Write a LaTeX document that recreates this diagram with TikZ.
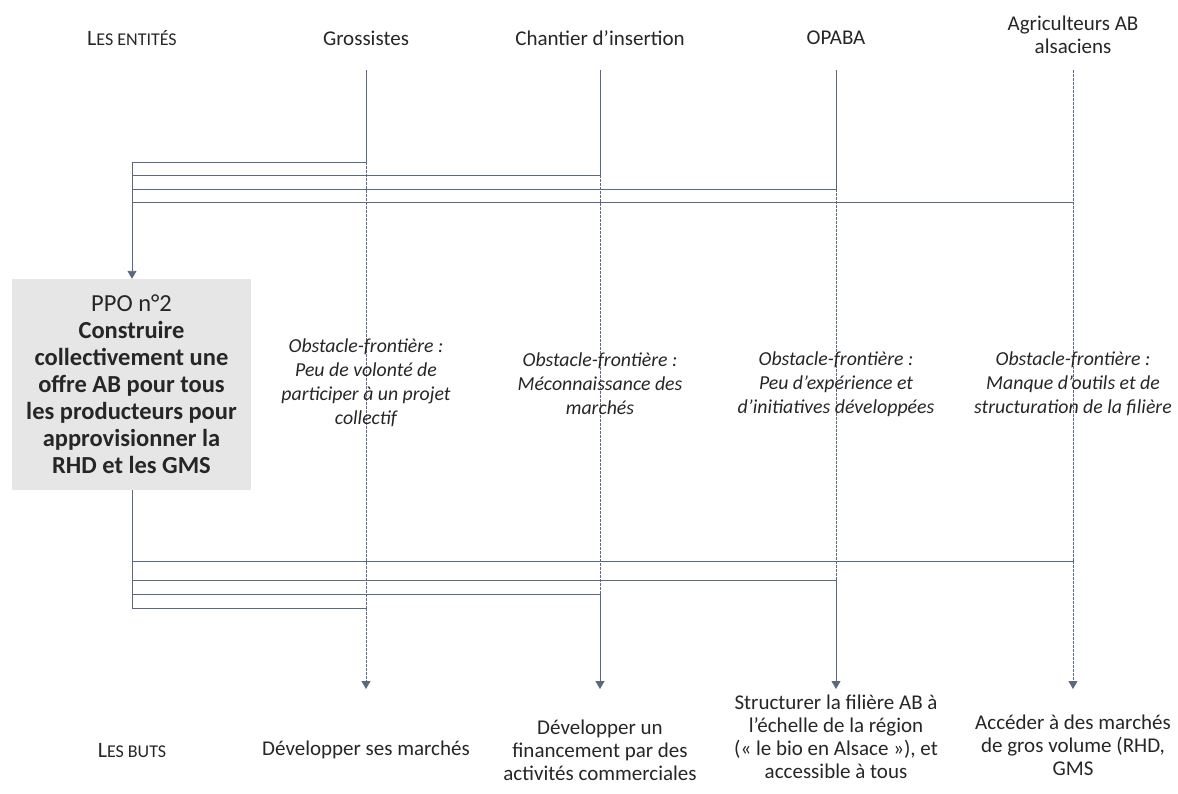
\documentclass[tikz,border=0pt]{standalone}
\usepackage{fontspec}
\setmainfont{Carlito}
\usetikzlibrary{arrows.meta}
\definecolor{ln}{HTML}{5A6880}
\definecolor{boxgray}{HTML}{E6E6E6}
\definecolor{txt}{HTML}{262626}
\tikzset{
  conn/.style={draw=ln, line width=0.9pt},
  dash col/.style={draw=ln, line width=0.9pt, dash pattern=on 2.5pt off 1.5pt},
  arr/.style={-{Triangle[width=9pt,length=8pt]}},
  lbl/.style={text=txt, align=center, inner sep=0pt, font=\fontsize{21}{23}\selectfont},
  obst/.style={text=txt, align=center, inner sep=0pt, font=\fontsize{19.8}{24}\selectfont\itshape},
  ppo/.style={fill=boxgray, text=txt, align=center, minimum width=239pt, minimum height=211pt, inner sep=0pt, font=\fontsize{24.5}{27}\selectfont},
}
\newcommand{\fsc}[2]{{\fontsize{22}{23}\selectfont #1}{\fontsize{18}{20}\selectfont #2}}
\begin{document}
\begin{tikzpicture}[x=1pt,y=-1pt]
\useasboundingbox (0,0) rectangle (1178,793);
% labels
\node[lbl] (ent) at (132,38) {\fsc{L}{ES ENTITÉS}};
\node[lbl] (gro) at (366,38) {Grossistes};
\node[lbl] (cha) at (600,38) {Chantier d’insertion};
\node[lbl] (opa) at (836,38) {OPABA};
\node[lbl] (agr) at (1073,35) {Agriculteurs AB\\alsaciens};
% coordinates
\coordinate (g0) at (366,70); \coordinate (c0) at (600,70);
\coordinate (o0) at (836,70); \coordinate (a0) at (1073,70);
\coordinate (g1) at (366,162); \coordinate (c1) at (600,175);
\coordinate (o1) at (836,189); \coordinate (a1) at (1073,202);
\coordinate (lg1) at (132,162); \coordinate (lc1) at (132,175);
\coordinate (lo1) at (132,189); \coordinate (la1) at (132,202);
\coordinate (g2) at (366,608); \coordinate (c2) at (600,594);
\coordinate (o2) at (836,580); \coordinate (a2) at (1073,561);
\coordinate (lg2) at (132,608); \coordinate (lc2) at (132,594);
\coordinate (lo2) at (132,580); \coordinate (la2) at (132,561);
\coordinate (g3) at (366,689); \coordinate (c3) at (600,689);
\coordinate (o3) at (836,689); \coordinate (a3) at (1073,689);
% PPO box
\node[ppo] (ppo) at (131.5,384.5) {PPO n°2\\\textbf{Construire}\\\textbf{collectivement une}\\\textbf{offre AB pour tous}\\\textbf{les producteurs pour}\\\textbf{approvisionner la}\\\textbf{RHD et les GMS}};
% dashed column lines
\draw[dash col] (g1) -- (g2);
\draw[dash col] (c1) -- (c2);
\draw[dash col] (o1) -- (o2);
\draw[dash col] (a1) -- (a2);
% obstacles
\node[obst] (og) at (366,383) {Obstacle-frontière :\\Peu de volonté de\\participer à un projet\\collectif};
\node[obst] (oc) at (600,384) {Obstacle-frontière :\\Méconnaissance des\\marchés};
\node[obst] (oo) at (836,384) {Obstacle-frontière :\\Peu d’expérience et\\d’initiatives développées};
\node[obst] (oa) at (1073,384) {Obstacle-frontière :\\Manque d’outils et de\\structuration de la filière};
% top connectors
\draw[conn] (g0) -- (g1) -- (lg1);
\draw[conn] (c0) -- (c1) -- (lc1);
\draw[conn] (o0) -- (o1) -- (lo1);
\draw[dash col] (a0) -- (a1);
\draw[conn] (a1) -- (la1);
\draw[conn,arr] (lg1) -- (ppo.north -| lg1);
% bottom connectors
\draw[conn] (ppo.south -| lg2) -- (lg2);
\draw[conn] (la2) -- (a2);
\draw[conn] (lo2) -- (o2);
\draw[conn] (lc2) -- (c2);
\draw[conn] (lg2) -- (g2);
\draw[dash col,arr] (g2) -- (g3);
\draw[conn,arr] (c2) -- (c3);
\draw[conn,arr] (o2) -- (o3);
\draw[dash col,arr] (a2) -- (a3);
% goals
\node[lbl] (buts) at (132,750) {\fsc{L}{ES BUTS}};
\node[lbl] (bg) at (366,750) {Développer ses marchés};
\node[lbl] (bc) at (600,750) {Développer un\\financement par des\\activités commerciales};
\node[lbl] (bo) at (836,737) {Structurer la filière AB à\\l’échelle de la région\\(« le bio en Alsace »), et\\accessible à tous};
\node[lbl] (ba) at (1073,745) {Accéder à des marchés\\de gros volume (RHD,\\GMS};
\end{tikzpicture}
\end{document}
